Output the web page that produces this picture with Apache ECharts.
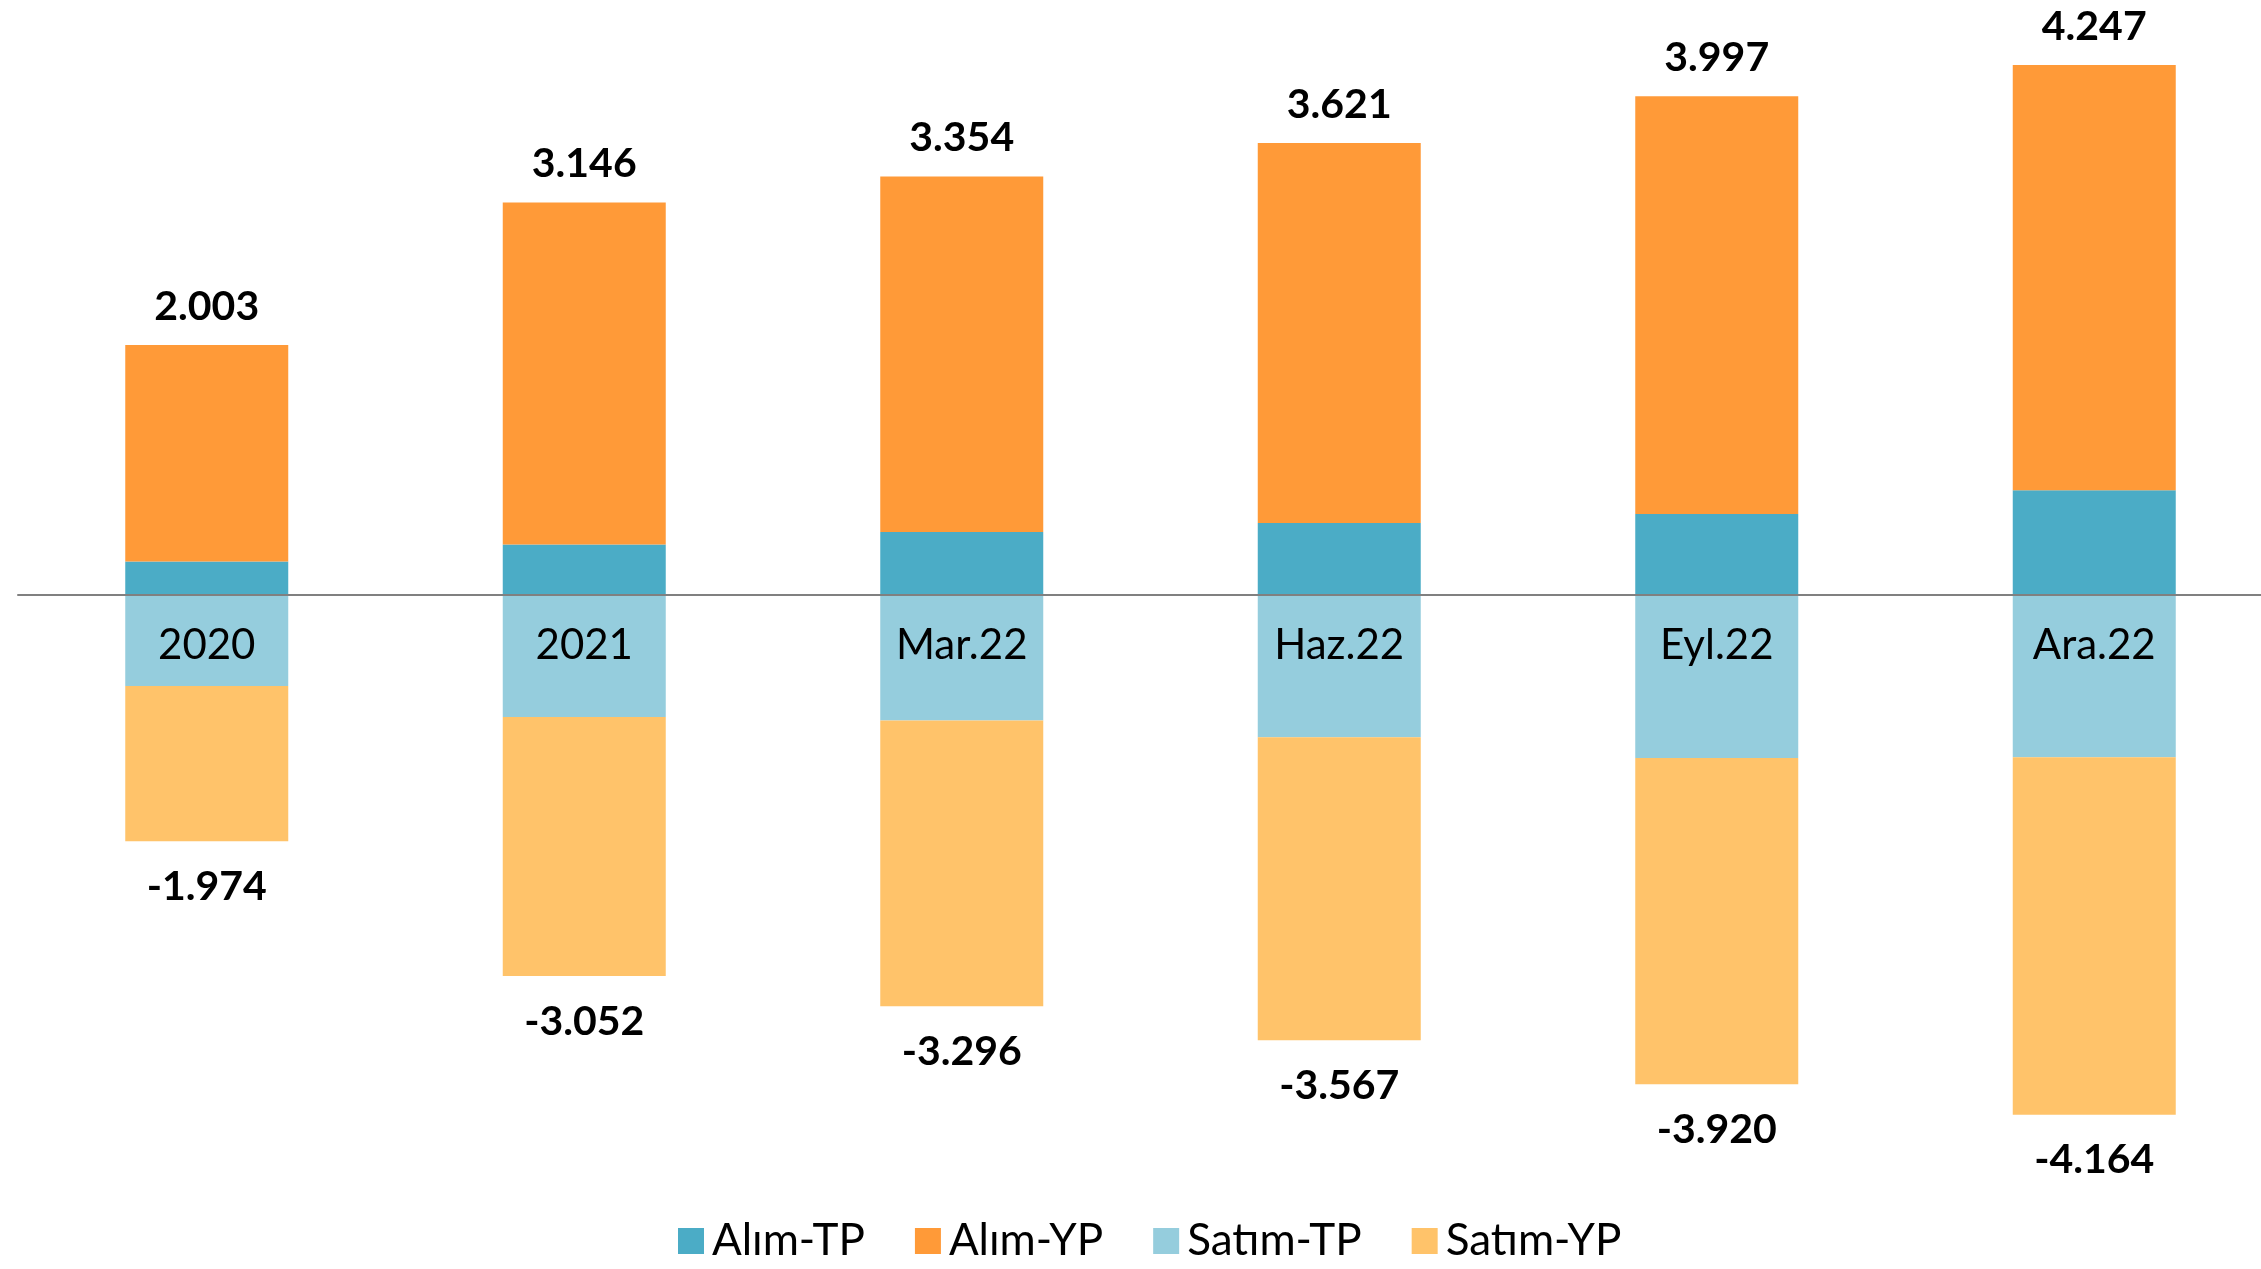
<!DOCTYPE html>
<html>
<head>
<meta charset="utf-8">
<title>Alım / Satım</title>
<script src="https://cdn.jsdelivr.net/npm/echarts@6/dist/echarts.min.js"></script>
<style>
  html, body { margin: 0; padding: 0; background: #fff; }
  #chart { width: 2261px; height: 1269px; }
</style>
</head>
<body>
<div id="chart"></div>
<script>
// Periods on the category axis
const categories = ['2020', '2021', 'Mar.22', 'Haz.22', 'Eyl.22', 'Ara.22'];

// Purchases (positive side)
const alimTP = [269, 405, 504, 577, 650, 840];
const alimYP = [1734, 2741, 2850, 3044, 3347, 3407];

// Sales (negative side)
const satimTP = [-730, -978, -1006, -1139, -1306, -1300];
const satimYP = [-1244, -2074, -2290, -2428, -2614, -2864];

const seriesNames = ['Alım-TP', 'Alım-YP', 'Satım-TP', 'Satım-YP'];
const colors = ['#4BACC6', '#FF9A38', '#95CDDD', '#FFC36A'];

const FONT = 'Lato, "Open Sans", sans-serif';

// Turkish number style: dot as thousands separator
function fmt(v) {
  const sign = v < 0 ? '-' : '';
  const a = Math.abs(v);
  const th = Math.floor(a / 1000);
  const rest = String(a % 1000).padStart(3, '0');
  return th > 0 ? sign + th + '.' + rest : sign + (a % 1000);
}

const totalLabel = {
  show: true,
  color: '#000',
  fontFamily: FONT,
  fontWeight: 'bold',
  fontSize: 41
};

const chart = echarts.init(document.getElementById('chart'), null, { renderer: 'canvas' });

chart.setOption({
  backgroundColor: '#fff',
  animation: false,
  color: colors,
  grid: {
    left: 18, width: 2265, top: 33.4, bottom: 112.4,
    containLabel: false, outerBoundsMode: 'none'
  },
  legend: {
    data: seriesNames,
    left: 673,
    top: 1214,
    itemWidth: 26,
    itemHeight: 26,
    itemGap: 50,
    icon: 'rect',
    textStyle: { fontFamily: FONT, fontSize: 44, color: '#000', padding: [0, 0, 0, 3] }
  },
  xAxis: {
    type: 'category',
    data: categories,
    z: 10,
    axisLine: { onZero: true, lineStyle: { color: '#808080', width: 2 } },
    axisTick: { show: false },
    axisLabel: { show: false },
    splitLine: { show: false }
  },
  yAxis: {
    type: 'value',
    min: -4500,
    max: 4500,
    show: false,
    splitLine: { show: false }
  },
  series: [
    {
      name: 'Alım-TP', type: 'bar', stack: 'all', barWidth: 163,
      data: alimTP
    },
    {
      name: 'Alım-YP', type: 'bar', stack: 'all', barWidth: 163,
      data: alimYP,
      label: Object.assign({}, totalLabel, {
        position: 'top', distance: 18,
        formatter: p => fmt(alimTP[p.dataIndex] + alimYP[p.dataIndex])
      })
    },
    {
      // category names sit just under the zero line, inside the sales bars
      name: 'Satım-TP', type: 'bar', stack: 'all', barWidth: 163,
      data: satimTP,
      label: {
        show: true, position: 'insideTop', distance: 29,
        fontFamily: FONT, fontSize: 42, color: '#000',
        formatter: p => categories[p.dataIndex]
      }
    },
    {
      name: 'Satım-YP', type: 'bar', stack: 'all', barWidth: 163,
      data: satimYP,
      label: Object.assign({}, totalLabel, {
        position: 'bottom', distance: 25,
        formatter: p => fmt(satimTP[p.dataIndex] + satimYP[p.dataIndex])
      })
    }
  ]
});
</script>
</body>
</html>
